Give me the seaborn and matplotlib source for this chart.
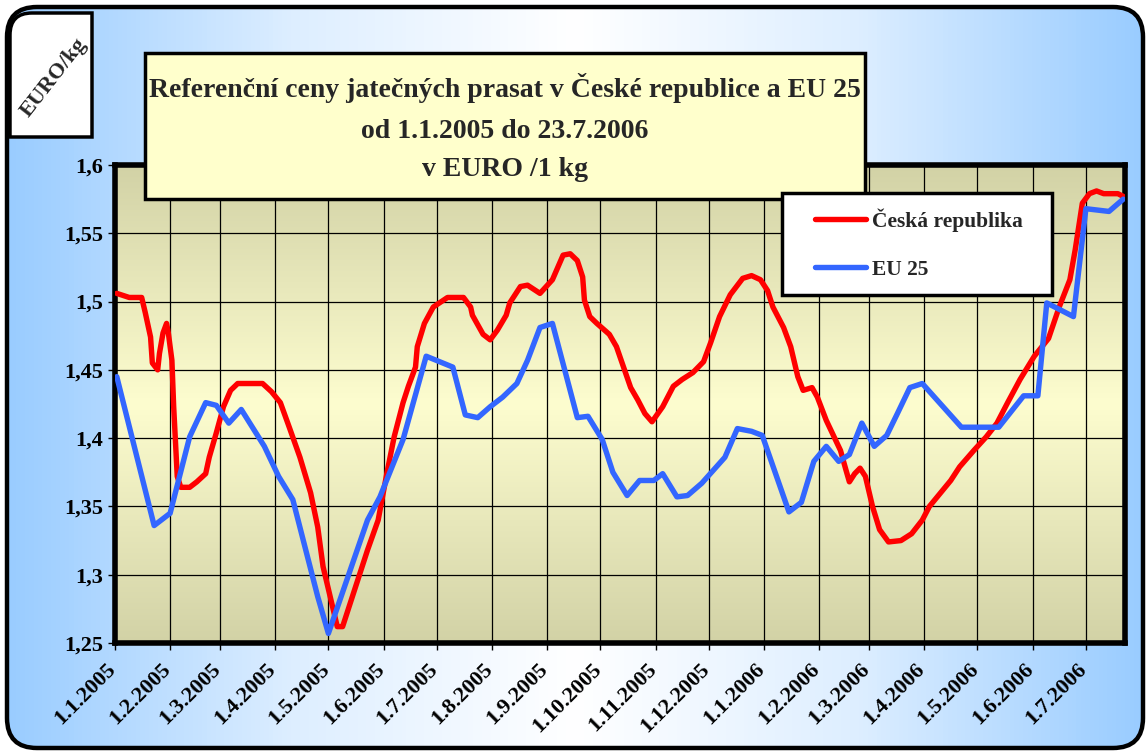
import numpy as np
import pandas as pd
import matplotlib
matplotlib.use("Agg")
import matplotlib.pyplot as plt
import matplotlib.dates as mdates
from matplotlib.colors import LinearSegmentedColormap
from matplotlib.patches import FancyBboxPatch, Rectangle, PathPatch
from matplotlib.path import Path
from matplotlib.lines import Line2D
from matplotlib.legend_handler import HandlerLine2D
from matplotlib.transforms import ScaledTranslation
import seaborn as sns

# dny od 1.1.2005 a ceny v EUR/kg
cz_den = [1, 8, 15, 17, 20, 21, 24, 25, 27, 29, 30, 32, 33, 35, 37, 42, 46, 51, 53, 57,
          61, 65, 69, 83, 88, 93, 98, 104, 110, 114, 117, 121, 125, 128, 133, 137, 142, 148,
          153, 157, 162, 165, 169, 170, 174, 179, 187, 192, 196, 200, 201, 207, 211, 215,
          220, 222, 228, 232, 239, 246, 249, 252, 256, 260, 263, 264, 267, 271, 278, 282,
          286, 290, 294, 298, 302, 308, 314, 319, 325, 331, 335, 340, 346, 353, 358, 363,
          367, 370, 376, 380, 384, 387, 392, 395, 400, 408, 411, 413, 416, 419, 422, 426,
          430, 435, 442, 448, 454, 458, 470, 475, 483, 490, 496, 502, 509, 517, 525, 531,
          537, 540, 542, 544, 548, 552, 556, 564, 567]
cz_cena = [1.506, 1.503, 1.503, 1.492, 1.474, 1.455, 1.450, 1.462, 1.477, 1.484, 1.477,
           1.457, 1.423, 1.372, 1.364, 1.364, 1.368, 1.374, 1.386, 1.404, 1.423, 1.435,
           1.440, 1.440, 1.434, 1.426, 1.408, 1.386, 1.360, 1.335, 1.306, 1.284, 1.262,
           1.262, 1.282, 1.298, 1.318, 1.340, 1.375, 1.401, 1.426, 1.438, 1.452, 1.467,
           1.484, 1.496, 1.503, 1.503, 1.503, 1.496, 1.490, 1.476, 1.472, 1.479, 1.490,
           1.499, 1.511, 1.512, 1.506, 1.516, 1.525, 1.534, 1.535, 1.530, 1.518, 1.501,
           1.489, 1.484, 1.476, 1.467, 1.452, 1.437, 1.428, 1.418, 1.412, 1.423, 1.438,
           1.443, 1.448, 1.456, 1.470, 1.489, 1.505, 1.517, 1.519, 1.516, 1.508, 1.496,
           1.481, 1.467, 1.445, 1.435, 1.437, 1.430, 1.413, 1.391, 1.377, 1.368, 1.374,
           1.378, 1.372, 1.350, 1.333, 1.324, 1.325, 1.330, 1.340, 1.350, 1.369, 1.379,
           1.391, 1.401, 1.411, 1.426, 1.443, 1.460, 1.473, 1.496, 1.516, 1.538, 1.555,
           1.572, 1.579, 1.581, 1.579, 1.579, 1.577]

eu_den = [1, 22, 31, 42, 51, 57, 64, 71, 84, 92, 100, 114, 120, 142, 149, 162, 175, 190,
          197, 204, 211, 218, 226, 232, 239, 246, 260, 266, 274, 280, 288, 295, 303, 308,
          316, 322, 330, 343, 350, 358, 364, 379, 386, 393, 400, 407, 413, 420, 427, 434,
          440, 447, 454, 476, 497, 511, 519, 524, 539, 546, 559, 567]
eu_cena = [1.445, 1.336, 1.345, 1.401, 1.426, 1.424, 1.411, 1.421, 1.394, 1.372, 1.355,
           1.284, 1.257, 1.340, 1.357, 1.399, 1.460, 1.452, 1.417, 1.415, 1.423, 1.430,
           1.440, 1.457, 1.481, 1.484, 1.415, 1.416, 1.399, 1.375, 1.358, 1.369, 1.369,
           1.374, 1.357, 1.358, 1.367, 1.386, 1.407, 1.405, 1.402, 1.346, 1.353, 1.383,
           1.394, 1.383, 1.388, 1.411, 1.394, 1.402, 1.418, 1.437, 1.440, 1.408, 1.408,
           1.431, 1.431, 1.499, 1.489, 1.568, 1.566, 1.575]

serie = ["Česká republika", "EU 25"]
barvy = ["#ff0000", "#3366ff"]
y_ticks = [1.25, 1.3, 1.35, 1.4, 1.45, 1.5, 1.55, 1.6]
y_labels = ["1,25", "1,3", "1,35", "1,4", "1,45", "1,5", "1,55", "1,6"]
titulek = ["Referenční ceny jatečných prasat v České republice a EU 25",
           "od 1.1.2005 do 23.7.2006",
           "v EURO /1 kg"]

start = pd.Timestamp("2005-01-01")
df = pd.concat([
    pd.DataFrame({"datum": start + pd.to_timedelta(cz_den, unit="D"), "cena": cz_cena, "serie": serie[0]}),
    pd.DataFrame({"datum": start + pd.to_timedelta(eu_den, unit="D"), "cena": eu_cena, "serie": serie[1]}),
])

sns.set_theme(style="white")
plt.rcParams["font.family"] = ["Liberation Serif", "DejaVu Serif"]
plt.rcParams["font.weight"] = "bold"

W, H = 1147, 751
fig = plt.figure(figsize=(W / 100, H / 100), dpi=100)

# pozadí s modrým přechodem
bg = fig.add_axes([0, 0, 1, 1], zorder=0)
bg.set_xlim(0, W); bg.set_ylim(H, 0); bg.axis("off")
outer = FancyBboxPatch((7, 7), 1136, 741, boxstyle="round,pad=0,rounding_size=30",
                       fc="none", ec="none", transform=bg.transData)
bg.add_patch(outer)
cmap_bg = LinearSegmentedColormap.from_list("bg", ["#99ccff", "#ddeeff", "#ffffff", "#ddeeff", "#99ccff"])
im = bg.imshow(np.linspace(0, 1, 256).reshape(1, -1), cmap=cmap_bg, extent=[7, 1143, 748, 7],
               aspect="auto")
im.set_clip_path(outer)
bg.set_xlim(0, W); bg.set_ylim(H, 0)

# plocha grafu
ax = fig.add_axes([115 / W, 1 - 643 / H, 1010 / W, 478 / H], zorder=1)
cmap_pl = LinearSegmentedColormap.from_list("pl", ["#d2d2a6", "#fdfdcf", "#d2d2a6"])
ax.imshow(np.linspace(0, 1, 256).reshape(-1, 1), cmap=cmap_pl, extent=[0, 1, 0, 1],
          transform=ax.transAxes, aspect="auto", zorder=0)

sns.lineplot(data=df, x="datum", y="cena", hue="serie", hue_order=serie,
             palette=dict(zip(serie, barvy)), linewidth=3.9, ax=ax, zorder=3)

ax.set_xlim(start, pd.Timestamp("2006-07-23"))
ax.set_ylim(1.25, 1.6)
ax.set_yticks(y_ticks)
ax.set_yticklabels(y_labels)
ax.xaxis.set_major_locator(mdates.MonthLocator(bymonthday=1))
ax.xaxis.set_major_formatter(plt.FuncFormatter(
    lambda v, p: f"{mdates.num2date(v).day}.{mdates.num2date(v).month}.{mdates.num2date(v).year}"))
ax.grid(True, color="black", linewidth=0.9)
ax.set_xlabel("")
ax.set_ylabel("")
for s in ax.spines.values():
    s.set_linewidth(4)
    s.set_color("black")
ax.tick_params(axis="both", direction="out", length=5, width=1, colors="black",
               labelsize=16, bottom=True, left=True)
ax.tick_params(axis="x", labelsize=16, pad=7)
posun = ScaledTranslation(-9 / 100, 0, fig.dpi_scale_trans)
for t in ax.get_xticklabels():
    t.set_rotation(45)
    t.set_ha("right")
    t.set_va("top")
    t.set_rotation_mode("anchor")
    t.set_fontweight("bold")
    t.set_transform(t.get_transform() + posun)
for t in ax.get_yticklabels():
    t.set_fontweight("bold")

handles, labels = ax.get_legend_handles_labels()
ax.get_legend().remove()

# překryvná vrstva: titulek, popisek osy, rámeček
top = fig.add_axes([0, 0, 1, 1], zorder=5)
top.set_xlim(0, W); top.set_ylim(H, 0); top.axis("off")
top.patch.set_alpha(0)
top.add_patch(Rectangle((145, 53), 720, 146, fc="#ffffcc", ec="black", lw=2.5))
for txt, yy in zip(titulek, [88, 131, 170]):
    top.text(505, yy, txt, ha="center", va="center", fontsize=20, fontweight="bold")

r = 22
verts = [(10, 137), (10, 13 + r), (10, 13), (10 + r, 13), (92, 13), (92, 137), (10, 137)]
codes = [Path.MOVETO, Path.LINETO, Path.CURVE3, Path.CURVE3, Path.LINETO, Path.LINETO, Path.CLOSEPOLY]
top.add_patch(PathPatch(Path(verts, codes), fc="white", ec="black", lw=2.5))
top.text(54, 78, "EURO/kg", rotation=52, ha="center", va="center", fontsize=16, fontweight="bold")

top.add_patch(FancyBboxPatch((7, 7), 1136, 741, boxstyle="round,pad=0,rounding_size=30",
                             fc="none", ec="black", lw=3.2))

leg = fig.legend(handles, labels, loc="upper left",
                 bbox_to_anchor=(782 / W, 1 - 298 / H, 270 / W, 105 / H), mode="expand",
                 bbox_transform=fig.transFigure, frameon=True, fancybox=False,
                 edgecolor="black", facecolor="white", framealpha=1,
                 prop={"family": "Liberation Serif", "weight": "bold", "size": 15.5},
                 handler_map={Line2D: HandlerLine2D(xpad=0.84)},
                 handlelength=3.21, handletextpad=0.28, labelspacing=1.3,
                 borderpad=0.7, borderaxespad=0)
leg.get_frame().set_linewidth(2.5)
leg.set_zorder(20)

fig.savefig("out.png", dpi=100)
